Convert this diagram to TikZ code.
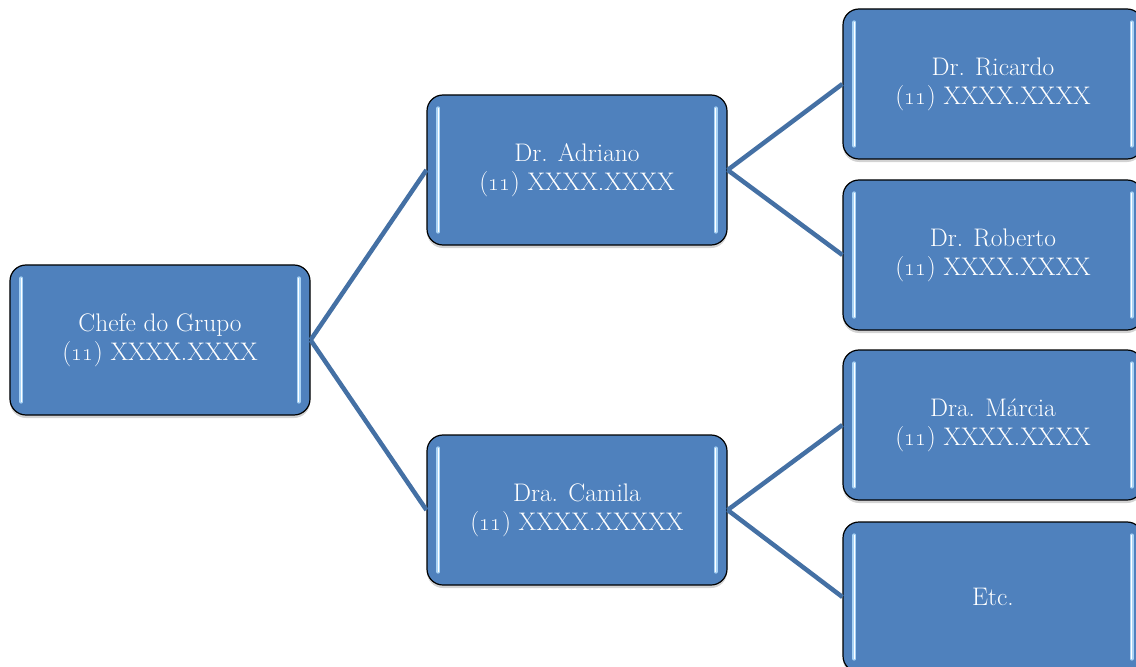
\documentclass[tikz,border=0pt]{standalone}
\usetikzlibrary{shadows}
\definecolor{caixa}{HTML}{4F81BD}
\definecolor{linha}{HTML}{4470A4}
\definecolor{brilho}{HTML}{A9D3F5}
\begin{document}
\begin{tikzpicture}[x=1bp,y=-1bp,
  caixa/.style={draw=black,line width=1.2bp,fill=caixa,rounded corners=16bp,
    minimum width=300bp,minimum height=150bp,text=white,align=center,
    font=\fontsize{25.5}{29}\selectfont,
    drop shadow={opacity=.35,shadow xshift=0bp,shadow yshift=-3bp}},
  ramo/.style={draw=linha,line width=4.5bp},
  brilho/.style={draw=brilho,line width=4bp,line cap=round}]
\clip (0,0) rectangle (1136,667);
\node[caixa] (chefe) at (160,340) {Chefe do Grupo\\(\oldstylenums{11}) XXXX.XXXX};
\node[caixa] (adriano) at (577,170) {Dr. Adriano\\(\oldstylenums{11}) XXXX.XXXX};
\node[caixa] (camila) at (577,510) {Dra. Camila\\(\oldstylenums{11}) XXXX.XXXXX};
\node[caixa] (ricardo) at (993,84) {Dr. Ricardo\\(\oldstylenums{11}) XXXX.XXXX};
\node[caixa] (roberto) at (993,255) {Dr. Roberto\\(\oldstylenums{11}) XXXX.XXXX};
\node[caixa] (marcia) at (993,425) {Dra. Márcia\\(\oldstylenums{11}) XXXX.XXXX};
\node[caixa] (etc) at (993,597) {Etc.};
\foreach \n in {chefe,adriano,camila,ricardo,roberto,marcia,etc}{
  \draw[brilho] ([xshift=12bp,yshift=-14bp]\n.north west)--([xshift=12bp,yshift=14bp]\n.south west);
  \draw[brilho] ([xshift=-12bp,yshift=-14bp]\n.north east)--([xshift=-12bp,yshift=14bp]\n.south east);
  \draw[white,line width=1.2bp] ([xshift=12bp,yshift=-14bp]\n.north west)--([xshift=12bp,yshift=14bp]\n.south west);
  \draw[white,line width=1.2bp] ([xshift=-12bp,yshift=-14bp]\n.north east)--([xshift=-12bp,yshift=14bp]\n.south east);
}
\draw[ramo] (chefe.east)--(adriano.west);
\draw[ramo] (chefe.east)--(camila.west);
\draw[ramo] (adriano.east)--(ricardo.west);
\draw[ramo] (adriano.east)--(roberto.west);
\draw[ramo] (camila.east)--(marcia.west);
\draw[ramo] (camila.east)--(etc.west);
\end{tikzpicture}
\end{document}
